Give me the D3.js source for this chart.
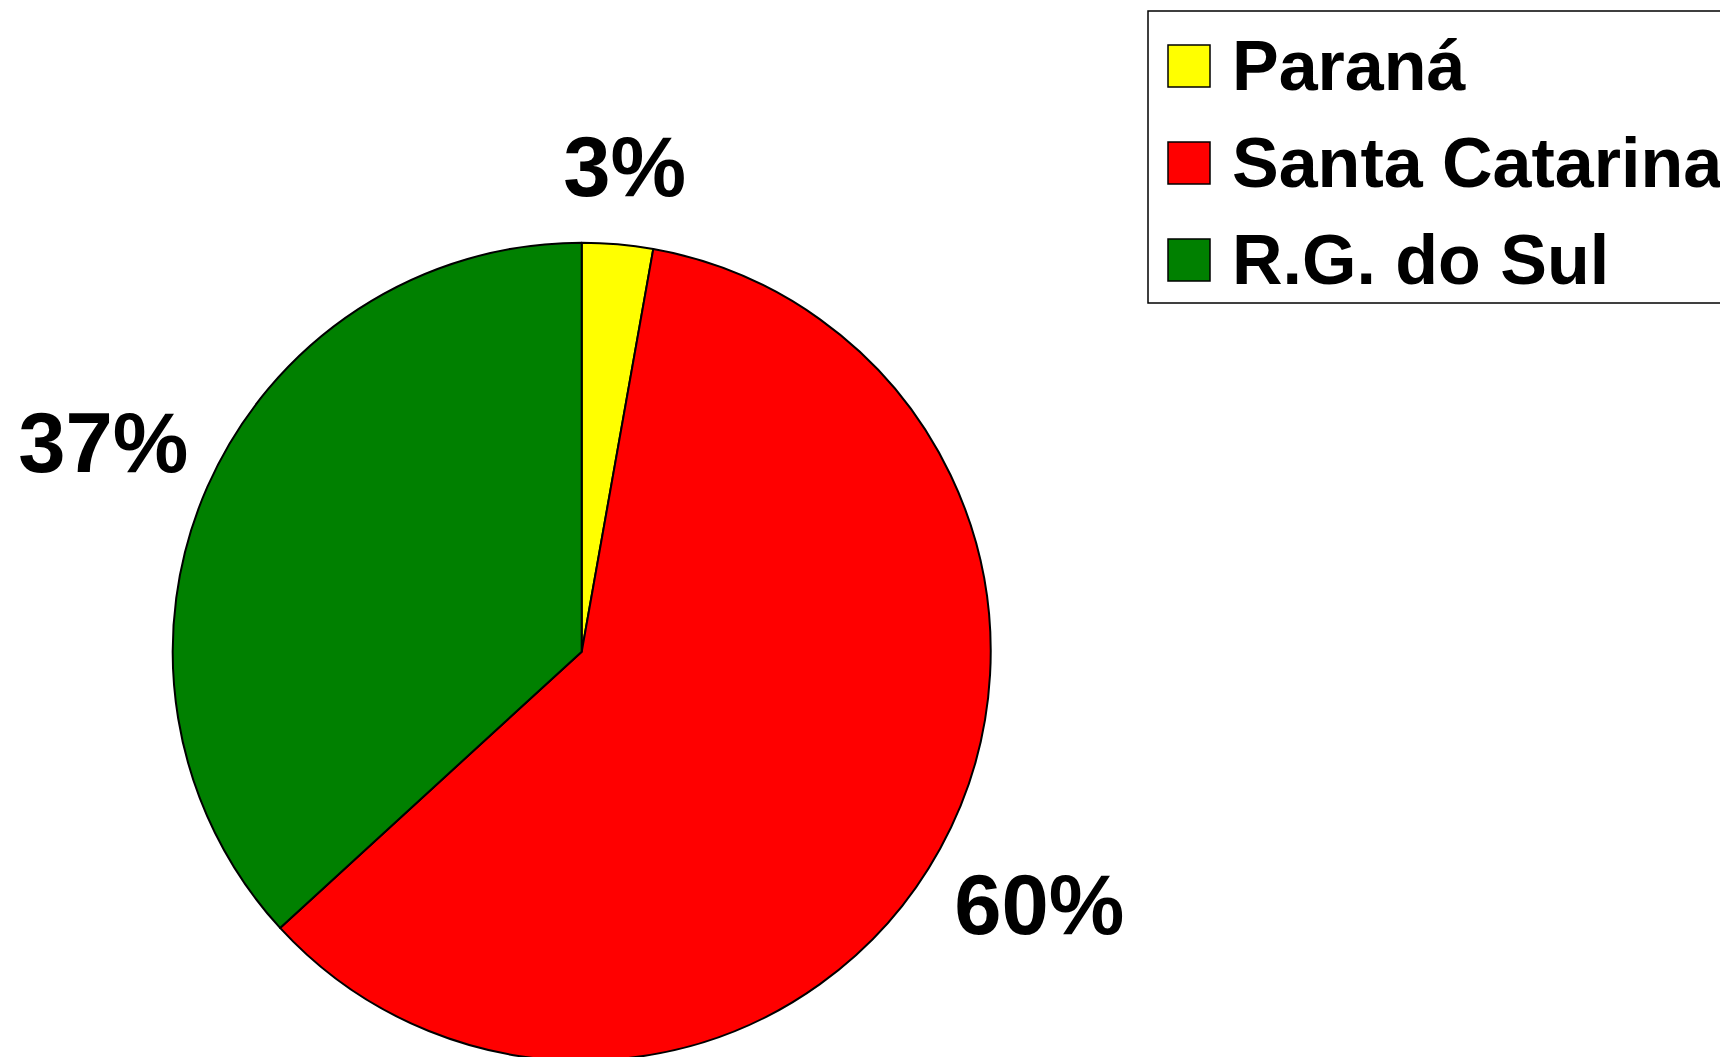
<!DOCTYPE html>
<html>
<head>
<meta charset="utf-8">
<script src="https://cdn.jsdelivr.net/npm/d3@7"></script>
<style>
  html, body { margin: 0; padding: 0; background: #fff; overflow: hidden; }
  svg { display: block; }
  text { font-family: "Liberation Sans", Arial, sans-serif; font-weight: bold; fill: #000; }
</style>
</head>
<body>
<svg></svg>
<script>
const states = ['Paraná', 'Santa Catarina', 'R.G. do Sul'];
const shares = [2.8, 60.4, 36.8];
const colors = ['#ffff00', '#ff0000', '#008000'];

const width = 1720;
const height = 1057;
const cx = 581.7;
const cy = 651.7;
const radius = 409;

const svg = d3.select('svg')
  .attr('width', width)
  .attr('height', height);

const data = states.map((name, i) => ({ name, value: shares[i], color: colors[i] }));

const pie = d3.pie()
  .sort(null)
  .value(d => d.value);

const arc = d3.arc()
  .innerRadius(0)
  .outerRadius(radius);

const arcs = pie(data);

const g = svg.append('g')
  .attr('transform', `translate(${cx},${cy})`);

g.selectAll('path')
  .data(arcs)
  .join('path')
  .attr('d', arc)
  .attr('fill', d => d.data.color)
  .attr('stroke', '#000')
  .attr('stroke-width', 2)
  .attr('stroke-linejoin', 'round');

// percentage labels, pushed out so the near edge of the box sits off the rim
const labels = g.selectAll('text.pct')
  .data(arcs)
  .join('text')
  .attr('class', 'pct')
  .attr('font-size', 85)
  .attr('text-anchor', 'middle')
  .text(d => Math.round(d.data.value) + '%');

labels.each(function (d) {
  const mid = (d.startAngle + d.endAngle) / 2;
  const sx = Math.sin(mid);
  const sy = -Math.cos(mid);
  const w = this.getComputedTextLength();
  const h = 61;
  const proj = Math.abs(sx) * w / 2 + Math.abs(sy) * h / 2;
  const dist = radius + 57 + 0.63 * proj;
  d3.select(this)
    .attr('x', sx * dist)
    .attr('y', sy * dist + h / 2);
});

// legend
const legend = svg.append('g');

legend.append('rect')
  .attr('x', 1148)
  .attr('y', 11)
  .attr('width', 620)
  .attr('height', 292)
  .attr('fill', '#fff')
  .attr('stroke', '#000')
  .attr('stroke-width', 1.5);

const rowY = d3.scalePoint()
  .domain(states)
  .range([66, 260]);

const rows = legend.selectAll('g.row')
  .data(data)
  .join('g')
  .attr('class', 'row')
  .attr('transform', d => `translate(0,${rowY(d.name)})`);

rows.append('rect')
  .attr('x', 1168)
  .attr('y', -21)
  .attr('width', 42)
  .attr('height', 42)
  .attr('fill', d => d.color)
  .attr('stroke', '#000')
  .attr('stroke-width', 1.5);

rows.append('text')
  .attr('x', 1232)
  .attr('y', 24)
  .attr('font-size', 70)
  .text(d => d.name);
</script>
</body>
</html>
